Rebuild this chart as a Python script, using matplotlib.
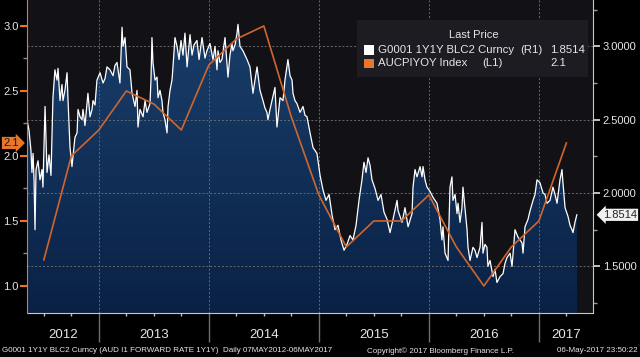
import numpy as np
import matplotlib
matplotlib.use("Agg")
import matplotlib.pyplot as plt
from matplotlib.patches import Rectangle
from matplotlib.colors import LinearSegmentedColormap
from matplotlib.transforms import blended_transform_factory
from matplotlib.ticker import FixedLocator, MultipleLocator, FormatStrFormatter, NullFormatter

plt.rcParams["font.family"] = ["Liberation Sans", "DejaVu Sans"]

# AUD 1Y1Y forward rate (right axis), x in decimal years
fwd_t = [2012.347, 2012.365, 2012.383, 2012.392, 2012.402, 2012.411, 2012.420, 2012.429,
         2012.447, 2012.465, 2012.483, 2012.492, 2012.511, 2012.529, 2012.547, 2012.565,
         2012.583, 2012.601, 2012.620, 2012.629, 2012.647, 2012.665, 2012.674, 2012.692,
         2012.711, 2012.720, 2012.738, 2012.756, 2012.765, 2012.783, 2012.802, 2012.811,
         2012.829, 2012.847, 2012.856, 2012.874, 2012.892, 2012.901, 2012.920, 2012.938,
         2012.947, 2012.965, 2012.983, 2013.011, 2013.038, 2013.056, 2013.074, 2013.102,
         2013.129, 2013.147, 2013.165, 2013.183, 2013.192, 2013.211, 2013.220, 2013.238,
         2013.256, 2013.283, 2013.302, 2013.329, 2013.347, 2013.356, 2013.374, 2013.402,
         2013.420, 2013.438, 2013.465, 2013.474, 2013.483, 2013.492, 2013.511, 2013.529,
         2013.538, 2013.556, 2013.574, 2013.583, 2013.601, 2013.620, 2013.629, 2013.647,
         2013.665, 2013.674, 2013.692, 2013.711, 2013.729, 2013.747, 2013.765, 2013.783,
         2013.802, 2013.829, 2013.847, 2013.865, 2013.892, 2013.911, 2013.938, 2013.965,
         2013.983, 2014.010, 2014.038, 2014.056, 2014.074, 2014.083, 2014.101, 2014.119,
         2014.147, 2014.174, 2014.192, 2014.210, 2014.219, 2014.238, 2014.256, 2014.265,
         2014.283, 2014.310, 2014.328, 2014.347, 2014.374, 2014.401, 2014.419, 2014.438,
         2014.465, 2014.492, 2014.510, 2014.528, 2014.537, 2014.556, 2014.574, 2014.601,
         2014.619, 2014.647, 2014.674, 2014.692, 2014.710, 2014.719, 2014.738, 2014.756,
         2014.765, 2014.783, 2014.801, 2014.829, 2014.856, 2014.874, 2014.892, 2014.920,
         2014.947, 2014.965, 2014.983, 2014.992, 2015.011, 2015.038, 2015.065, 2015.093,
         2015.120, 2015.147, 2015.174, 2015.201, 2015.229, 2015.256, 2015.283, 2015.310,
         2015.338, 2015.365, 2015.392, 2015.410, 2015.429, 2015.447, 2015.465, 2015.483,
         2015.511, 2015.538, 2015.565, 2015.592, 2015.620, 2015.647, 2015.674, 2015.711,
         2015.720, 2015.756, 2015.783, 2015.811, 2015.847, 2015.856, 2015.874, 2015.892,
         2015.920, 2015.938, 2015.947, 2015.965, 2015.983, 2016.011, 2016.038, 2016.074,
         2016.101, 2016.119, 2016.128, 2016.147, 2016.174, 2016.192, 2016.210, 2016.219,
         2016.238, 2016.256, 2016.265, 2016.283, 2016.301, 2016.310, 2016.328, 2016.347,
         2016.356, 2016.374, 2016.401, 2016.419, 2016.438, 2016.465, 2016.483, 2016.492,
         2016.510, 2016.528, 2016.537, 2016.556, 2016.583, 2016.601, 2016.619, 2016.647,
         2016.674, 2016.692, 2016.710, 2016.738, 2016.756, 2016.783, 2016.810, 2016.829,
         2016.847, 2016.856, 2016.874, 2016.901, 2016.920, 2016.947, 2016.965, 2016.983,
         2017.010, 2017.038, 2017.056, 2017.074, 2017.101, 2017.128, 2017.147, 2017.165,
         2017.192, 2017.210, 2017.219, 2017.238, 2017.265, 2017.283, 2017.301, 2017.310,
         2017.328, 2017.345]
fwd_v = [2.50, 2.43, 2.29, 2.14, 2.27, 2.09, 1.75, 2.16,
         2.22, 2.09, 2.16, 2.04, 2.59, 2.14, 2.26, 2.12,
         2.65, 2.84, 2.77, 2.85, 2.63, 2.74, 2.63, 2.70,
         2.82, 2.63, 2.31, 2.18, 2.25, 2.38, 2.41, 2.57,
         2.52, 2.50, 2.57, 2.46, 2.61, 2.68, 2.52, 2.57,
         2.63, 2.60, 2.77, 2.82, 2.75, 2.78, 2.86, 2.84,
         2.80, 2.87, 2.89, 2.80, 2.75, 3.13, 3.00, 3.06,
         2.86, 2.84, 2.68, 2.59, 2.70, 2.45, 2.57, 2.52,
         2.63, 2.55, 2.61, 2.77, 3.06, 2.89, 2.77, 2.79,
         2.65, 2.70, 2.63, 2.55, 2.50, 2.41, 2.59, 2.70,
         2.77, 2.86, 3.06, 3.00, 2.91, 3.04, 2.94, 3.09,
         2.86, 3.08, 2.94, 3.01, 3.04, 2.91, 3.06, 2.92,
         2.97, 3.02, 2.91, 3.00, 2.84, 2.97, 2.89, 2.91,
         3.06, 2.79, 2.94, 3.02, 2.97, 3.01, 3.09, 3.15,
         3.00, 2.97, 2.94, 2.91, 2.86, 2.68, 2.77, 2.86,
         2.70, 2.63, 2.58, 2.55, 2.50, 2.57, 2.63, 2.72,
         2.45, 2.65, 2.63, 2.77, 2.86, 2.91, 2.80, 2.77,
         2.68, 2.63, 2.61, 2.55, 2.59, 2.53, 2.52, 2.41,
         2.31, 2.29, 2.27, 2.22, 2.12, 2.02, 1.95, 1.99,
         1.85, 1.75, 1.78, 1.68, 1.61, 1.65, 1.71, 1.68,
         1.78, 1.95, 2.09, 2.21, 2.14, 2.24, 2.19, 2.09,
         2.03, 1.95, 1.99, 1.87, 1.82, 1.73, 1.82, 1.95,
         1.88, 1.80, 1.90, 1.77, 1.86, 2.04, 2.16, 2.11,
         2.18, 2.11, 2.18, 2.09, 2.04, 2.01, 1.97, 1.93,
         1.82, 1.68, 1.77, 1.59, 1.54, 2.04, 2.11, 1.95,
         1.99, 1.86, 1.93, 1.80, 1.90, 2.04, 1.90, 1.75,
         1.63, 1.54, 1.63, 1.61, 1.56, 1.63, 1.80, 1.59,
         1.65, 1.63, 1.50, 1.54, 1.43, 1.48, 1.39, 1.43,
         1.45, 1.52, 1.56, 1.59, 1.50, 1.75, 1.70, 1.68,
         1.66, 1.59, 1.77, 1.82, 1.88, 1.95, 1.99, 2.09,
         2.07, 2.00, 1.99, 1.93, 1.95, 2.04, 1.99, 1.93,
         2.09, 2.16, 2.07, 1.90, 1.84, 1.78, 1.75, 1.73,
         1.80, 1.8514]

# AUCPIYOY Index (left axis), quarterly
cpi_t = [2012.50, 2012.75, 2013.00, 2013.25, 2013.50, 2013.75, 2014.00, 2014.25,
         2014.50, 2014.75, 2015.00, 2015.25, 2015.50, 2015.75, 2016.00, 2016.25,
         2016.50, 2016.75, 2017.00, 2017.25]
cpi_v = [1.2, 2.0, 2.2, 2.5, 2.4, 2.2, 2.7, 2.9,
         3.0, 2.3, 1.7, 1.3, 1.5, 1.5, 1.7, 1.3,
         1.0, 1.3, 1.5, 2.1]

years = [2012, 2013, 2014, 2015, 2016, 2017]
right_ticks = [1.5, 2.0, 2.5, 3.0]
left_ticks = [1.0, 1.5, 2.0, 2.5, 3.0]

ORANGE = "#e8762c"
TXT = "#e6e6e6"

W, H = 640, 357
fig = plt.figure(figsize=(W / 100, H / 100), dpi=100, facecolor="black")
ax = fig.add_axes([27 / W, 44 / H, 566 / W, 313 / H])
ax.set_facecolor("#121216")

x0, x1 = 2012.347, 2017.492
ylo, yhi = 1.182, 3.316

# forward rate: navy gradient area + white line
area = ax.fill_between(fwd_t, fwd_v, 0, color="#0d2a50", lw=0, zorder=1)
navy = LinearSegmentedColormap.from_list("navy", ["#0a2145", "#1a416e"])
grad = ax.imshow(np.linspace(0, 1, 256).reshape(-1, 1), cmap=navy, origin="lower",
                 extent=[x0, x1, ylo, yhi], aspect="auto", zorder=1.1)
grad.set_clip_path(area.get_paths()[0], ax.transData)
ax.plot(fwd_t, fwd_v, color="white", lw=0.9, zorder=3)
ax.set_xlim(x0, x1)
ax.set_ylim(ylo, yhi)

ax2 = ax.twinx()
ax.yaxis.tick_right()
ax2.yaxis.tick_left()
ax2.plot(cpi_t, cpi_v, color="#d0662c", lw=1.2, zorder=2)
ax2.set_ylim(0.792, 3.2)
ax2.set_xlim(x0, x1)

# right axis
ax.yaxis.set_major_locator(FixedLocator(right_ticks))
ax.yaxis.set_minor_locator(MultipleLocator(0.25))
ax.yaxis.set_major_formatter(FormatStrFormatter("%.4f"))
ax.tick_params(axis="y", which="major", color="#e0e0e0", labelcolor=TXT,
               length=5, width=1.2, pad=2, labelsize=8)
ax.tick_params(axis="y", which="minor", color="#9a9a9a", length=3, width=1)

# bottom axis
ax.xaxis.set_major_locator(FixedLocator(years[1:]))
ax.xaxis.set_minor_locator(MultipleLocator(0.25))
ax.xaxis.set_major_formatter(NullFormatter())
ax.tick_params(axis="x", which="major", color="#6e6e6e", length=21, width=1)
ax.tick_params(axis="x", which="minor", color="#c0c0c0", length=2.5, width=1)
ax.grid(True, which="major", color="#6a6a6a", ls=(0, (2, 2)), lw=0.7, zorder=2)

for s in ["top", "left"]:
    ax.spines[s].set_visible(False)
for s in ["right", "bottom"]:
    ax.spines[s].set_color("#c8c8c8")

# left axis (CPI)
ax2.yaxis.set_major_locator(FixedLocator(left_ticks))
ax2.yaxis.set_minor_locator(MultipleLocator(0.25))
ax2.yaxis.set_major_formatter(FormatStrFormatter("%.1f"))
ax2.tick_params(axis="y", which="major", color=ORANGE, labelcolor=TXT,
                length=5, width=1.5, pad=1, labelsize=8)
ax2.tick_params(axis="y", which="minor", color="#8a8a8a", length=3, width=1)
for s in ["top", "right", "bottom"]:
    ax2.spines[s].set_visible(False)
ax2.spines["left"].set_color(ORANGE)

# year labels under the axis
tr = blended_transform_factory(ax.transData, fig.transFigure)
for yr in years:
    c = (max(yr, x0) + min(yr + 1, x1)) / 2
    ax.text(c, 22 / H, str(yr), transform=tr, ha="center", va="center",
            fontsize=9.5, color=TXT)

# last value tags
trl = blended_transform_factory(fig.transFigure, ax2.transData)
fig.text(3 / W, cpi_v[-1], "%.1f" % cpi_v[-1], transform=trl, ha="left", va="center",
         fontsize=8, color="#1a1a1a",
         bbox=dict(boxstyle="rarrow,pad=0.1", fc=ORANGE, ec="none"))
trr = blended_transform_factory(fig.transFigure, ax.transData)
fig.text(603 / W, fwd_v[-1], "%.4f" % fwd_v[-1], transform=trr, ha="left", va="center",
         fontsize=8, color="#222222",
         bbox=dict(boxstyle="larrow,pad=0.1", fc="#f0f0f0", ec="none"))

# legend box
fig.add_artist(Rectangle((357 / W, 1 - 77 / H), 231 / W, 57 / H, transform=fig.transFigure,
                         fc="#1c1c22", ec="none"))
fig.text(474 / W, 1 - 35 / H, "Last Price", ha="center", va="center", fontsize=8, color=TXT)
rows = [("white", "G0001 1Y1Y BLC2 Curncy", "(R1)", "%.4f" % fwd_v[-1]),
        (ORANGE, "AUCPIYOY Index", "(L1)", "%.1f" % cpi_v[-1])]
for i, (col, name, side, val) in enumerate(rows):
    yc = 50 + i * 13.5
    fig.add_artist(Rectangle((364 / W, 1 - (yc + 4.5) / H), 10 / W, 9 / H,
                             transform=fig.transFigure, fc=col, ec="none"))
    fig.text(378 / W, 1 - yc / H, name, ha="left", va="center", fontsize=8.2, color=TXT)
    fig.text((520 if i == 0 else 482) / W, 1 - yc / H, side, ha="left", va="center",
             fontsize=8.2, color=TXT)
    fig.text(550 / W, 1 - yc / H, val, ha="left", va="center", fontsize=8.2, color=TXT)

# footer
fy = 6 / H
fs = 5.8
fig.text(2 / W, fy, "G0001 1Y1Y BLC2 Curncy (AUD I1 FORWARD RATE 1Y1Y)", fontsize=fs,
         color=TXT, va="center")
fig.text(223 / W, fy, "Daily 07MAY2012-06MAY2017", fontsize=fs, color=TXT, va="center")
fig.text(367 / W, fy, "Copyright\u00a9 2017 Bloomberg Finance L.P.", fontsize=fs,
         color=TXT, va="center")
fig.text(638 / W, fy, "06-May-2017 23:50:22", fontsize=fs, color=TXT, va="center",
         ha="right")

fig.savefig("out.png", dpi=100, facecolor="black")
